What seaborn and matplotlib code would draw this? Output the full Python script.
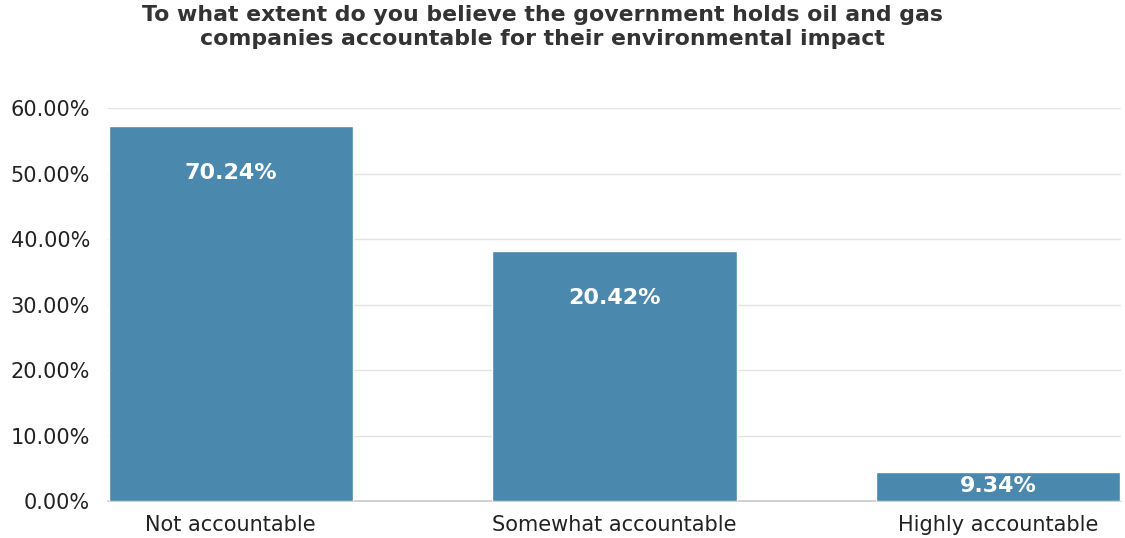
import matplotlib
matplotlib.use("Agg")
import matplotlib.pyplot as plt
import seaborn as sns
import pandas as pd

# Survey data
categories = ["Not accountable", "Somewhat accountable", "Highly accountable"]
shares = [57.25, 38.15, 4.45]            # bar heights (% of respondents)
label_values = [70.24, 20.42, 9.34]      # figures printed inside the bars

title = ("To what extent do you believe the government holds oil and gas\n"
         "companies accountable for their environmental impact")

sns.set_theme(style="white")
plt.rcParams["font.family"] = ["DejaVu Sans"]

df = pd.DataFrame({"category": categories, "share": shares})

fig = plt.figure(figsize=(11.25, 5.38), dpi=100)
ax = fig.add_axes([0.096, 0.0688, 0.9004, 0.7302])

sns.barplot(data=df, x="category", y="share", color="#4a88ae",
            saturation=1, width=0.637, ax=ax, zorder=3)

ax.set_xlim(-0.32, 2.32)
ax.set_ylim(0, 60)
ax.set_yticks(range(0, 61, 10))
ax.set_yticklabels([f"{v:.2f}%" for v in range(0, 61, 10)])
ax.set_xlabel("")
ax.set_ylabel("")

ax.yaxis.grid(True, color="#e3e3e3", linewidth=1.0, zorder=0)
ax.set_axisbelow(True)
for side in ["left", "right", "top"]:
    ax.spines[side].set_visible(False)
ax.spines["bottom"].set_color("#c8c8c8")
ax.spines["bottom"].set_linewidth(1.2)

ax.tick_params(axis="y", length=0, pad=13, labelsize=15, labelcolor="#222222")
ax.tick_params(axis="x", length=0, pad=10, labelsize=15, labelcolor="#222222")

# Value labels inside the bars
for patch, val in zip(ax.patches, label_values):
    cx = patch.get_x() + patch.get_width() / 2
    top = patch.get_height()
    ax.text(cx, top - min(7.2, top / 2), f"{val:.2f}%", ha="center", va="center",
            color="white", fontsize=16, fontweight="bold", zorder=4)

fig.text(0.482, 0.99, title, ha="center", va="top", fontsize=15.8,
         fontweight="bold", color="#333333", linespacing=1.25)

fig.savefig("out.png", dpi=100, facecolor="white")
